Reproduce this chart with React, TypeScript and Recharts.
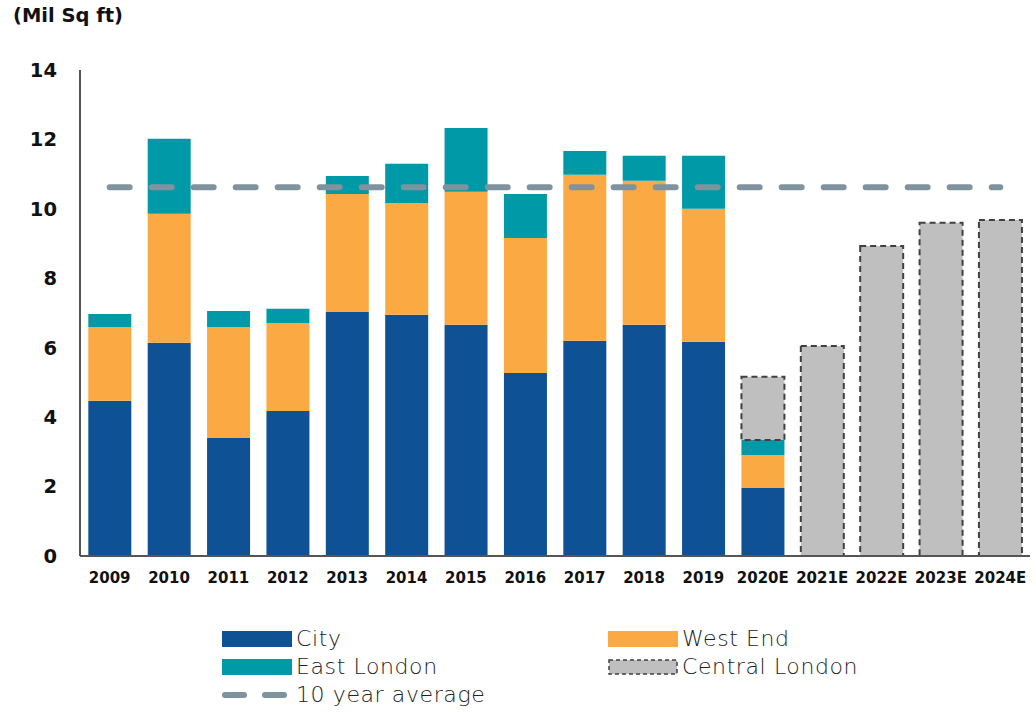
import { ComposedChart, Bar, Line, XAxis, YAxis } from "recharts";

const years = ["2009", "2010", "2011", "2012", "2013", "2014", "2015", "2016", "2017", "2018", "2019", "2020E", "2021E", "2022E", "2023E", "2024E"];
const city = [4.47, 6.14, 3.4, 4.18, 7.03, 6.95, 6.66, 5.27, 6.2, 6.66, 6.17, 1.96, null, null, null, null];
const westEnd = [2.13, 3.72, 3.2, 2.53, 3.4, 3.22, 3.83, 3.89, 4.78, 4.15, 3.83, 0.95, null, null, null, null];
const eastLondon = [0.37, 2.16, 0.46, 0.41, 0.52, 1.13, 1.84, 1.27, 0.69, 0.72, 1.53, 0.43, null, null, null, null];
const centralLondon = [null, null, null, null, null, null, null, null, null, null, null, 1.82, 6.05, 8.93, 9.6, 9.68];
const tenYearAvg = years.map(() => 10.62);
const yTicks = [0, 2, 4, 6, 8, 10, 12, 14];

const COLORS = {
  city: "#0E5295",
  westEnd: "#FBAA43",
  east: "#0099A7",
  central: "#BFBFBF",
  avg: "#7F939E",
};

const data = years.map((y, i) => ({
  year: y,
  city: city[i],
  westEnd: westEnd[i],
  east: eastLondon[i],
  central: centralLondon[i],
  avg: tenYearAvg[i],
}));

const legendFont = "'DejaVu Sans', sans-serif";
const boldFont = "'DejaVu Sans', sans-serif";

function LegendItem({ x, y, label, swatch }: any) {
  return (
    <div style={{ position: "absolute", left: x, top: y - 13, height: 26, display: "flex", alignItems: "center" }}>
      <svg width={76} height={26} style={{ display: "block" }}>
        {swatch}
      </svg>
      <span style={{ fontFamily: legendFont, fontWeight: 300, fontSize: 22, letterSpacing: 0.6, color: "#222", lineHeight: "26px", height: 26 }}>{label}</span>
    </div>
  );
}

export default function App() {
  return (
    <div style={{ position: "absolute", left: 0, top: 0, width: 1036, height: 712, background: "#fff" }}>
      <div style={{ position: "absolute", left: 13, top: 4, fontFamily: boldFont, fontWeight: "bold", fontSize: 19.5, color: "#111" }}>
        (Mil Sq ft)
      </div>
      <ComposedChart
        width={1036}
        height={600}
        data={data}
        margin={{ top: 70, right: 6, bottom: 4, left: 0 }}
        barCategoryGap="14%"
      >
        <XAxis
          dataKey="year"
          tickLine={false}
          tickSize={0}
          tickMargin={16}
          height={40}
          axisLine={{ stroke: "#555", strokeWidth: 2 }}
          tick={{ fill: "#111", fontSize: 15, fontWeight: "bold", fontFamily: boldFont }}
          interval={0}
        />
        <YAxis
          domain={[0, 14]}
          ticks={yTicks}
          width={80}
          tickLine={false}
          tickSize={0}
          tickMargin={23}
          axisLine={{ stroke: "#555", strokeWidth: 2 }}
          tick={{ fill: "#111", fontSize: 19.5, fontWeight: "bold", fontFamily: boldFont }}
        />
        <Bar dataKey="city" stackId="a" fill={COLORS.city} isAnimationActive={false} />
        <Bar dataKey="westEnd" stackId="a" fill={COLORS.westEnd} isAnimationActive={false} />
        <Bar dataKey="east" stackId="a" fill={COLORS.east} isAnimationActive={false} />
        <Bar
          dataKey="central"
          stackId="a"
          fill={COLORS.central}
          stroke="#404040"
          strokeWidth={2}
          strokeDasharray="6 4"
          isAnimationActive={false}
        />
        <Line
          dataKey="avg"
          stroke={COLORS.avg}
          strokeWidth={6}
          strokeDasharray="20 22"
          strokeLinecap="round"
          dot={false}
          activeDot={false}
          isAnimationActive={false}
        />
      </ComposedChart>

      <LegendItem x={220} y={639} label="City" swatch={<rect x={2} y={5} width={70} height={16} fill={COLORS.city} />} />
      <LegendItem x={606} y={639} label="West End" swatch={<rect x={2} y={5} width={70} height={16} fill={COLORS.westEnd} />} />
      <LegendItem x={220} y={667} label="East London" swatch={<rect x={2} y={5} width={70} height={16} fill={COLORS.east} />} />
      <LegendItem
        x={606}
        y={667}
        label="Central London"
        swatch={<rect x={3} y={6} width={68} height={14} fill={COLORS.central} stroke="#404040" strokeWidth={1.5} strokeDasharray="4 3" />}
      />
      <LegendItem
        x={220}
        y={695}
        label="10 year average"
        swatch={
          <g stroke={COLORS.avg} strokeWidth={6} strokeLinecap="round">
            <line x1={5} y1={13} x2={24} y2={13} />
            <line x1={45} y1={13} x2={64} y2={13} />
          </g>
        }
      />
    </div>
  );
}
